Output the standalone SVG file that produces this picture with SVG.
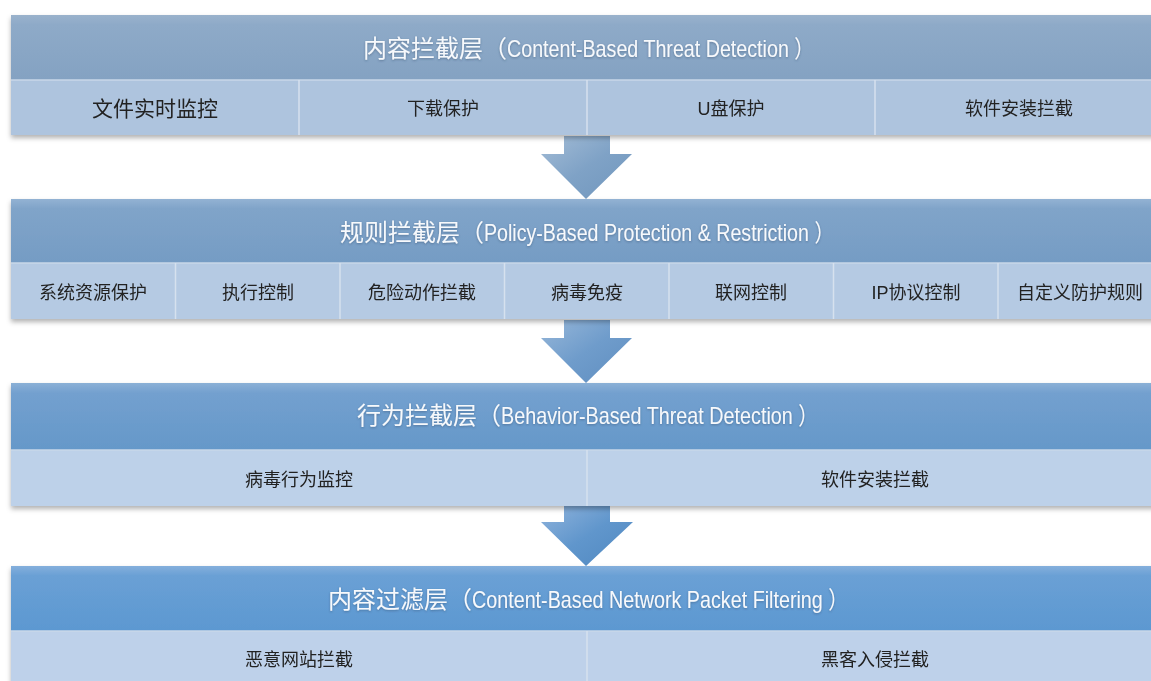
<svg xmlns="http://www.w3.org/2000/svg" width="1151" height="681" viewBox="0 0 1151 681">
<defs>
<filter id="sh" x="-5%" y="-20%" width="110%" height="150%">
<feDropShadow dx="0" dy="3" stdDeviation="2.5" flood-color="#000" flood-opacity="0.3"/>
</filter>
<filter id="ts" x="-5%" y="-30%" width="110%" height="160%">
<feDropShadow dx="0" dy="1" stdDeviation="1" flood-color="#2a4766" flood-opacity="0.45"/>
</filter>
<linearGradient id="h1" x1="0" y1="0" x2="0" y2="1"><stop offset="0" stop-color="#9ab2cc"/><stop offset="0.15" stop-color="#8eaac8"/><stop offset="1" stop-color="#84a2c2"/></linearGradient>
<linearGradient id="h2" x1="0" y1="0" x2="0" y2="1"><stop offset="0" stop-color="#93b2d3"/><stop offset="0.15" stop-color="#80a4c9"/><stop offset="1" stop-color="#759cc4"/></linearGradient>
<linearGradient id="h3" x1="0" y1="0" x2="0" y2="1"><stop offset="0" stop-color="#8bb0d6"/><stop offset="0.15" stop-color="#73a0cf"/><stop offset="1" stop-color="#6598c9"/></linearGradient>
<linearGradient id="h4" x1="0" y1="0" x2="0" y2="1"><stop offset="0" stop-color="#84afdc"/><stop offset="0.15" stop-color="#6aa0d5"/><stop offset="1" stop-color="#5c98d1"/></linearGradient>
<linearGradient id="a1" x1="0" y1="0" x2="1" y2="1"><stop offset="0" stop-color="#a3bcd6"/><stop offset="0.5" stop-color="#7fa2c6"/><stop offset="1" stop-color="#7096bd"/></linearGradient>
<linearGradient id="a2" x1="0" y1="0" x2="1" y2="1"><stop offset="0" stop-color="#97b7d9"/><stop offset="0.5" stop-color="#6f9ccb"/><stop offset="1" stop-color="#5f8ec0"/></linearGradient>
<linearGradient id="a3" x1="0" y1="0" x2="1" y2="1"><stop offset="0" stop-color="#8fb3dc"/><stop offset="0.5" stop-color="#6096cc"/><stop offset="1" stop-color="#5088c0"/></linearGradient>
</defs>
<style>
.t{font-family:"Liberation Sans","Noto Sans CJK SC",sans-serif;font-size:24px;fill:#f7f9fc}
.cell{font-family:"Liberation Sans","Noto Sans CJK SC",sans-serif;font-size:18px;fill:#222;text-anchor:middle}
.div{stroke:#d6e1ee;stroke-width:1.5}
.sep{stroke:#c8d7e8;stroke-width:1.5}
</style>
<rect width="1151" height="681" fill="#ffffff"/>

<g id="connectors">
<polygon points="564,136 610,136 610,154 632,154 586,199 541,154 564,154" fill="url(#a1)"/>
<polygon points="564,320 610,320 610,338 632,338 586,383 541,338 564,338" fill="url(#a2)"/>
<polygon points="564,506 610,506 610,522 633,522 586,566 541,522 564,522" fill="url(#a3)"/>
</g>

<g id="layer1" filter="url(#sh)">
<g id="layer1-header">
<rect x="11" y="15" width="1151" height="65" fill="url(#h1)"/>
<text class="t" x="363" y="57" filter="url(#ts)">内容拦截层（<tspan textLength="307" lengthAdjust="spacingAndGlyphs">Content-Based Threat Detection ）</tspan></text>
</g>
<rect x="11" y="80" width="1151" height="55" fill="#aec4de"/>
<line class="sep" x1="11" y1="80" x2="1162" y2="80"/>
<g id="l1-c1"><text class="cell" x="155" y="116" style="font-size:21px">文件实时监控</text></g>
<line class="div" x1="299" y1="80" x2="299" y2="135"/>
<g id="l1-c2"><text class="cell" x="443" y="115">下载保护</text></g>
<line class="div" x1="587" y1="80" x2="587" y2="135"/>
<g id="l1-c3"><text class="cell" x="731" y="115">U盘保护</text></g>
<line class="div" x1="875" y1="80" x2="875" y2="135"/>
<g id="l1-c4"><text class="cell" x="1019" y="115">软件安装拦截</text></g>
</g>

<g id="layer2" filter="url(#sh)">
<g id="layer2-header">
<rect x="11" y="199" width="1151" height="64" fill="url(#h2)"/>
<text class="t" x="340" y="241" filter="url(#ts)">规则拦截层（<tspan textLength="350" lengthAdjust="spacingAndGlyphs">Policy-Based Protection &amp; Restriction ）</tspan></text>
</g>
<rect x="11" y="263" width="1151" height="56" fill="#b5cae3"/>
<line class="sep" x1="11" y1="263" x2="1162" y2="263"/>
<g id="l2-c1"><text class="cell" x="93" y="299">系统资源保护</text></g>
<line class="div" x1="175.5" y1="263" x2="175.5" y2="319"/>
<g id="l2-c2"><text class="cell" x="258" y="299">执行控制</text></g>
<line class="div" x1="340" y1="263" x2="340" y2="319"/>
<g id="l2-c3"><text class="cell" x="422" y="299">危险动作拦截</text></g>
<line class="div" x1="504.5" y1="263" x2="504.5" y2="319"/>
<g id="l2-c4"><text class="cell" x="587" y="299">病毒免疫</text></g>
<line class="div" x1="669" y1="263" x2="669" y2="319"/>
<g id="l2-c5"><text class="cell" x="751" y="299">联网控制</text></g>
<line class="div" x1="833.5" y1="263" x2="833.5" y2="319"/>
<g id="l2-c6"><text class="cell" x="916" y="299">IP协议控制</text></g>
<line class="div" x1="998" y1="263" x2="998" y2="319"/>
<g id="l2-c7"><text class="cell" x="1080" y="299">自定义防护规则</text></g>
</g>

<g id="layer3" filter="url(#sh)">
<g id="layer3-header">
<rect x="11" y="383" width="1151" height="67" fill="url(#h3)"/>
<text class="t" x="357" y="424" filter="url(#ts)">行为拦截层（<tspan textLength="317" lengthAdjust="spacingAndGlyphs">Behavior-Based Threat Detection ）</tspan></text>
</g>
<rect x="11" y="450" width="1151" height="56" fill="#bdd1e9"/>
<line class="sep" x1="11" y1="450" x2="1162" y2="450"/>
<g id="l3-c1"><text class="cell" x="299" y="486">病毒行为监控</text></g>
<line class="div" x1="587" y1="450" x2="587" y2="506"/>
<g id="l3-c2"><text class="cell" x="875" y="486">软件安装拦截</text></g>
</g>

<g id="layer4" filter="url(#sh)">
<g id="layer4-header">
<rect x="11" y="566" width="1151" height="65" fill="url(#h4)"/>
<text class="t" x="328" y="608" filter="url(#ts)">内容过滤层（<tspan textLength="376" lengthAdjust="spacingAndGlyphs">Content-Based Network Packet Filtering ）</tspan></text>
</g>
<rect x="11" y="631" width="1151" height="60" fill="#bed1ea"/>
<line class="sep" x1="11" y1="631" x2="1162" y2="631"/>
<g id="l4-c1"><text class="cell" x="299" y="666">恶意网站拦截</text></g>
<line class="div" x1="587" y1="631" x2="587" y2="691"/>
<g id="l4-c2"><text class="cell" x="875" y="666">黑客入侵拦截</text></g>
</g>
</svg>
